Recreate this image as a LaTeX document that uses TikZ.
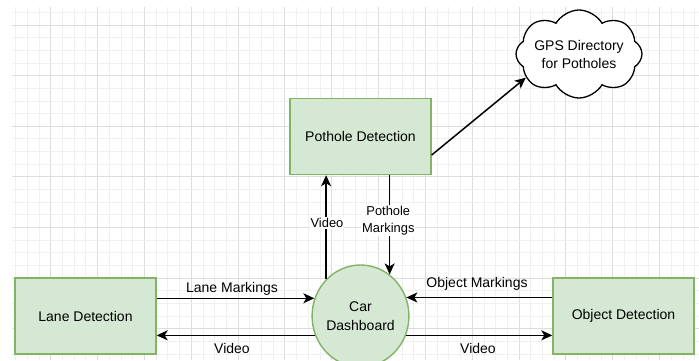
\documentclass[tikz,border=0pt]{standalone}
\usepackage{fontspec}
\setmainfont{Liberation Sans}
\usetikzlibrary{shapes.geometric,shapes.symbols,arrows.meta}
\definecolor{boxfill}{HTML}{D5E8D4}
\definecolor{boxline}{HTML}{82B366}
\definecolor{gridmajor}{HTML}{DDDDDD}
\definecolor{gridminor}{HTML}{F0F0F0}
\tikzset{
  procbox/.style={draw=boxline,fill=boxfill,line width=1.4pt,minimum width=141pt,minimum height=76pt,inner sep=0pt,font=\fontsize{14}{18}\selectfont,align=center},
  dashnode/.style={ellipse,draw=boxline,fill=boxfill,line width=1.4pt,minimum width=94pt,minimum height=102pt,inner sep=0pt,font=\fontsize{14}{19}\selectfont,align=center},
  cloudnode/.style={cloud,cloud puffs=8,cloud puff arc=120,draw=black,fill=white,line width=1.3pt,minimum width=126pt,minimum height=88pt,inner sep=0pt},
  cloudtext/.style={font=\fontsize{14}{18}\selectfont,align=center,inner sep=0pt},
  flow/.style={line width=1.5pt,-{Stealth[length=11pt,width=10pt,inset=3pt]}},
  biglabel/.style={font=\fontsize{14}{18}\selectfont,inner sep=1pt},
  smalllabel/.style={font=\fontsize{12.9}{16.5}\selectfont,fill=white,inner sep=1pt,align=center},
}
\begin{document}
\begin{tikzpicture}[x=1pt,y=-1pt]
\useasboundingbox (0,0) rectangle (699,360);
\fill[white] (0,0) rectangle (699,360);
% grid
\begin{scope}
\clip (12,7) rectangle (699,360);
\foreach \i in {0,...,58}{
  \pgfmathtruncatemacro{\m}{mod(\i,4)}
  \ifnum\m=3
    \draw[gridmajor,line width=0.9pt] ({15.57+11.71*\i},7) -- ({15.57+11.71*\i},360);
  \else
    \draw[gridminor,line width=0.8pt] ({15.57+11.71*\i},7) -- ({15.57+11.71*\i},360);
  \fi
}
\foreach \j in {0,...,27}{
  \pgfmathtruncatemacro{\m}{mod(\j,4)}
  \ifnum\m=1
    \draw[gridmajor,line width=0.9pt] (12,{12.35+12.65*\j}) -- (699,{12.35+12.65*\j});
  \else
    \draw[gridminor,line width=0.8pt] (12,{12.35+12.65*\j}) -- (699,{12.35+12.65*\j});
  \fi
}
\end{scope}
% nodes
\node[procbox] (pot) at (360.5,136.5) {Pothole Detection};
\node[procbox] (lane) at (85.5,316) {Lane Detection};
\node[procbox] (obj) at (623.5,316) {Object Detection};
\node[dashnode] (dash) at (360.5,316) {Car\\Dashboard};
\node[cloudnode] (gps) at (579,54) {};
\node[cloudtext] (gpstext) at (gps.center) {GPS Directory\\for Potholes};
% connectors
\coordinate (potout) at ([yshift=-18.5pt]pot.east);
\draw[flow] (potout) -- (gps.204);
\draw[flow] (lane.east |- dash.159) -- (dash.159);
\draw[flow] (dash.203.5) -- (lane.east |- dash.203.5);
\draw[flow] (obj.west |- dash.22) -- (dash.22);
\draw[flow] (dash.-23.5) -- (obj.west |- dash.-23.5);
\draw[flow] (dash.133.7) -- (pot.south -| dash.133.7);
\draw[flow] (pot.south -| dash.55.9) -- (dash.55.9);
% labels
\node[biglabel] (l1) at (232,289) {Lane Markings};
\node[biglabel] (l2) at (232,348) {Video};
\node[biglabel] (l3) at (477,284) {Object Markings};
\node[biglabel] (l4) at (478,348) {Video};
\node[smalllabel] (l5) at (327,223) {Video};
\node[smalllabel] (l6) at (388.3,220.5) {Pothole\\Markings};
\end{tikzpicture}
\end{document}
